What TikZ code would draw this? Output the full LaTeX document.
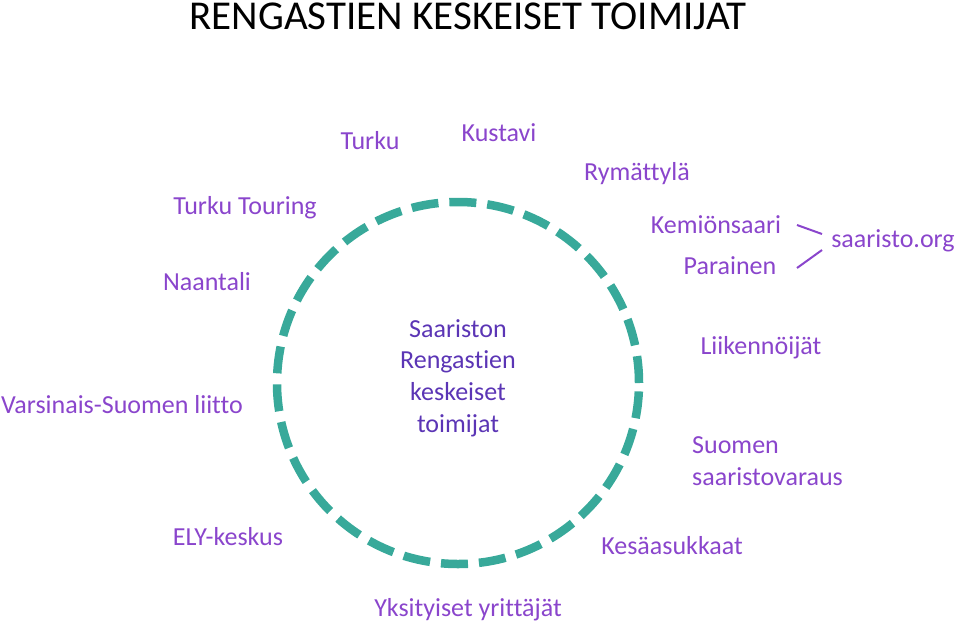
\documentclass[tikz,border=0pt]{standalone}
\usepackage{fontspec}
\setmainfont{Carlito}[Ligatures=NoCommon]
\definecolor{ringteal}{HTML}{38A99A}
\definecolor{actorpurple}{HTML}{8A45CC}
\definecolor{corepurple}{HTML}{5B35B5}

\begin{document}
\begin{tikzpicture}[x=1pt, y=-1pt,
    actor/.style={text=actorpurple, font=\fontsize{26}{32}\selectfont, inner sep=0pt},
    core/.style={text=corepurple, font=\fontsize{26}{31.7}\selectfont, align=center, inner sep=0pt},
    ring/.style={draw=ringteal, line width=8.5pt, dash pattern=on 27pt off 11pt}
  ]
  \useasboundingbox (0,0) rectangle (960,625);

  % Title
  \node[font=\fontsize{41}{44}\selectfont, inner sep=0pt] (title) at (468,16) {RENGASTIEN KESKEISET TOIMIJAT};

  % Ring and core
  \node[ring, circle, minimum size=362pt] (rengas) at (458,383) {};
  \node[core] (ydin) at (458,378) {Saariston\\Rengastien\\keskeiset\\toimijat};

  % Actors around the ring
  \node[actor] (turku) at (370,141) {Turku};
  \node[actor] (kustavi) at (499,133) {Kustavi};
  \node[actor] (rymattyla) at (637,174) {Rymättylä};
  \node[actor] (touring) at (245,208) {Turku Touring};
  \node[actor] (kemio) at (716,225) {Kemiönsaari};
  \node[actor] (parainen) at (730,266) {Parainen};
  \node[actor] (saaristo) at (893,241) {saaristo.org};
  \node[actor] (naantali) at (207,282) {Naantali};
  \node[actor] (liikenne) at (761,348) {Liikennöijät};
  \node[actor] (liitto) at (122,405) {Varsinais-Suomen liitto};
  \node[actor, align=left, anchor=west] (varaus) at (692,461) {Suomen\\saaristovaraus};
  \node[actor] (ely) at (228,537) {ELY-keskus};
  \node[actor] (kesa) at (672,546) {Kesäasukkaat};
  \node[actor] (yrittajat) at (468,610) {Yksityiset yrittäjät};

  % Brackets to saaristo.org
  \coordinate (kemio-a) at (797,225);
  \coordinate (kemio-b) at (822,234);
  \coordinate (parainen-a) at (797,268);
  \coordinate (parainen-b) at (822,250);
  \draw[actorpurple, line width=2pt] (kemio-a) -- (kemio-b);
  \draw[actorpurple, line width=2pt] (parainen-a) -- (parainen-b);

\end{tikzpicture}
\end{document}
